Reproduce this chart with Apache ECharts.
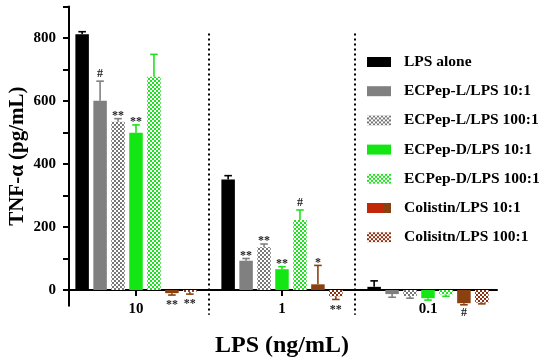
<!DOCTYPE html>
<html><head><meta charset="utf-8">
<script src="https://cdn.jsdelivr.net/npm/echarts@6/dist/echarts.min.js"></script>
<style>html,body{margin:0;padding:0;background:#fff}#c{width:550px;height:364px}</style>
</head><body><div id="c"></div>
<script>
// ---------- data ----------
const categories = ['10', '1', '0.1'];
const seriesNames = ['LPS alone', 'ECPep-L/LPS 10:1', 'ECPep-L/LPS 100:1', 'ECPep-D/LPS 10:1', 'ECPep-D/LPS 100:1', 'Colistin/LPS 10:1', 'Colisitn/LPS 100:1'];
const lpsAlone = [812, 351, 10];
const lpsAloneErr = [8, 12, 19];
const ecpL10 = [601, 93, -13];
const ecpL10Err = [62, 7, 10];
const ecpL100 = [534, 136, -19];
const ecpL100Err = [10, 10, 7];
const ecpD10 = [499, 66, -26];
const ecpD10Err = [25, 8, 6];
const ecpD100 = [677, 222, -14];
const ecpD100Err = [71, 32, 6];
const col10 = [-10, 18, -42];
const col10Err = [6, 60, 5];
const col100 = [-6, -20, -40];
const col100Err = [7, 10, 4];
const sigLpsAlone = ['', '', ''];
const sigEcpL10 = ['#', '**', ''];
const sigEcpL100 = ['**', '**', ''];
const sigEcpD10 = ['**', '**', ''];
const sigEcpD100 = ['', '#', ''];
const sigCol10 = ['**', '*', '#'];
const sigCol100 = ['**', '**', ''];
const yTickValues = [0, 100, 200, 300, 400, 500, 600, 700, 800, 900];
const yLabelValues = [0, 200, 400, 600, 800];
const yMin = -50, yMax = 900;

// ---------- styling ----------
const FONT = 'Liberation Serif';
const BAR_W = 13.5, BAR_GAP = 0.33;
const SPACING = BAR_W * (1 + BAR_GAP);
const GRID_TOP = 6.5, GRID_H = 299.25;
const ZERO_OFFSET = -GRID_H * (0 - yMin) / (yMax - yMin); // lift category axis onto value 0
function checker(c) {
  return { symbol: 'rect', symbolSize: 1, color: c, dashArrayX: [[2, 2], [0, 2, 2, 0]], dashArrayY: [2, 0], rotation: 0 };
}
const seriesDefs = [
  { vals: lpsAlone, errs: lpsAloneErr, sigs: sigLpsAlone, color: '#000000', err: '#000000' },
  { vals: ecpL10, errs: ecpL10Err, sigs: sigEcpL10, color: '#808080', err: '#808080' },
  { vals: ecpL100, errs: ecpL100Err, sigs: sigEcpL100, color: '#ffffff', decal: checker('#777777'), err: '#808080' },
  { vals: ecpD10, errs: ecpD10Err, sigs: sigEcpD10, color: '#14e614', err: '#14e614' },
  { vals: ecpD100, errs: ecpD100Err, sigs: sigEcpD100, color: '#ffffff', decal: checker('#22e022'), err: '#22e022' },
  { vals: col10, errs: col10Err, sigs: sigCol10, color: '#8B4010', err: '#8B4010' },
  { vals: col100, errs: col100Err, sigs: sigCol100, color: '#ffffff', decal: checker('#8B3010'), err: '#8B4010' }
];

const series = [];
seriesDefs.forEach((d, si) => {
  const is = { color: d.color };
  if (d.decal) is.decal = d.decal;
  series.push({
    name: seriesNames[si], type: 'bar', xAxisIndex: 0, yAxisIndex: 0,
    barWidth: BAR_W, barGap: (BAR_GAP * 100) + '%',
    data: d.vals, itemStyle: is, silent: true
  });
});
seriesDefs.forEach((d, si) => {
  series.push({
    type: 'custom', xAxisIndex: 0, yAxisIndex: 0, z: 5, clip: false, silent: true,
    encode: { x: 0, y: 1 },
    data: d.vals.map((v, i) => [i, v, d.errs[i]]),
    renderItem: (params, api) => {
      const ci = api.value(0), v = api.value(1), e = api.value(2);
      const sig = d.sigs[params.dataIndex];
      const top = api.coord([ci, v]);
      const x = top[0] + (si - 3) * SPACING;
      const endY = api.coord([ci, v >= 0 ? v + e : v - e])[1];
      const children = [
        { type: 'line', shape: { x1: x, y1: top[1], x2: x, y2: endY }, style: { stroke: d.err, lineWidth: 1.6 } },
        { type: 'line', shape: { x1: x - 3.8, y1: endY, x2: x + 3.8, y2: endY }, style: { stroke: d.err, lineWidth: 1.6 } }
      ];
      if (sig) {
        const isStar = sig.indexOf('*') >= 0;
        children.push({
          type: 'text',
          style: {
            text: sig, x: x, y: v >= 0 ? endY - (isStar ? 3 : 7) : endY + (isStar ? 10 : 8),
            align: 'center', verticalAlign: 'middle',
            font: 'bold 12px "' + FONT + '"', fill: '#222'
          }
        });
      }
      return { type: 'group', children };
    }
  });
});
// dotted separators between LPS groups
series.push({
  type: 'custom', xAxisIndex: 0, yAxisIndex: 0, z: 4, clip: false, silent: true,
  encode: { x: 0, y: 1 },
  data: [[1, 0], [2, 0]],
  renderItem: (params, api) => {
    const ci = api.value(0);
    const x = api.coord([ci, 0])[0] - api.size([1, 0])[0] / 2;
    const cs = params.coordSys;
    return {
      type: 'line',
      shape: { x1: x, y1: cs.y + 27, x2: x, y2: cs.y + cs.height + 9 },
      style: { stroke: '#000', lineWidth: 2, lineDash: [2, 3] }
    };
  }
});

const legendData = seriesNames.map((n, i) => {
  if (i === 5) {
    return { name: n, itemStyle: { color: { type: 'linear', x: 0, y: 0, x2: 1, y2: 0, colorStops: [
      { offset: 0, color: '#c02808' }, { offset: 0.7, color: '#c02808' },
      { offset: 0.7, color: '#8B4010' }, { offset: 1, color: '#8B4010' }] } } };
  }
  return { name: n };
});

const chart = echarts.init(document.getElementById('c'), null, { renderer: 'canvas' });
chart.setOption({
  animation: false,
  backgroundColor: '#fff',
  grid: [
    { left: 63, width: 438, top: GRID_TOP, height: GRID_H, containLabel: false, outerBoundsMode: 'none' },
    { left: 69, width: 428, top: GRID_TOP, height: GRID_H, containLabel: false, outerBoundsMode: 'none' }
  ],
  xAxis: [
    {
      type: 'category', gridIndex: 0, data: categories, position: 'bottom', offset: ZERO_OFFSET,
      axisLine: { show: true, onZero: false, lineStyle: { color: 'rgba(0,0,0,0)' } },
      axisTick: { show: true, alignWithLabel: true, length: 6, lineStyle: { color: '#000', width: 2 } },
      axisLabel: { color: '#000', fontFamily: FONT, fontWeight: 'bold', fontSize: 15, margin: 12 },
      splitLine: { show: false },
      name: 'LPS (ng/mL)', nameLocation: 'middle', nameGap: 44, nameMoveOverlap: false,
      nameTextStyle: { color: '#000', fontFamily: FONT, fontWeight: 'bold', fontSize: 24 }
    },
    {
      type: 'value', gridIndex: 1, min: 0, max: 1,
      axisLine: { show: true, onZero: true, lineStyle: { color: '#000', width: 2 } },
      axisTick: { show: false }, axisLabel: { show: false }, splitLine: { show: false }
    }
  ],
  yAxis: [
    { type: 'value', gridIndex: 0, min: yMin, max: yMax, show: false },
    {
      type: 'value', gridIndex: 1, min: yMin, max: yMax,
      axisLine: { show: true, onZero: false, lineStyle: { color: '#000', width: 2 } },
      axisTick: { show: true, length: 6, customValues: yTickValues, lineStyle: { color: '#000', width: 2 } },
      axisLabel: { customValues: yLabelValues, color: '#000', fontFamily: FONT, fontWeight: 'bold', fontSize: 15, margin: 13 },
      splitLine: { show: false },
      name: 'TNF-α (pg/mL)', nameLocation: 'middle', nameGap: 41, nameMoveOverlap: false,
      nameTextStyle: { color: '#000', fontFamily: FONT, fontWeight: 'bold', fontSize: 21 }
    }
  ],
  legend: {
    orient: 'vertical', left: 367, top: 54, padding: 0, icon: 'rect',
    itemWidth: 24, itemHeight: 10, itemGap: 13.2,
    data: legendData, selectedMode: false,
    textStyle: { color: '#000', fontFamily: FONT, fontWeight: 'bold', fontSize: 15.5, lineHeight: 16, padding: [0, 0, 0, 8] }
  },
  series
});
</script>
</body></html>
